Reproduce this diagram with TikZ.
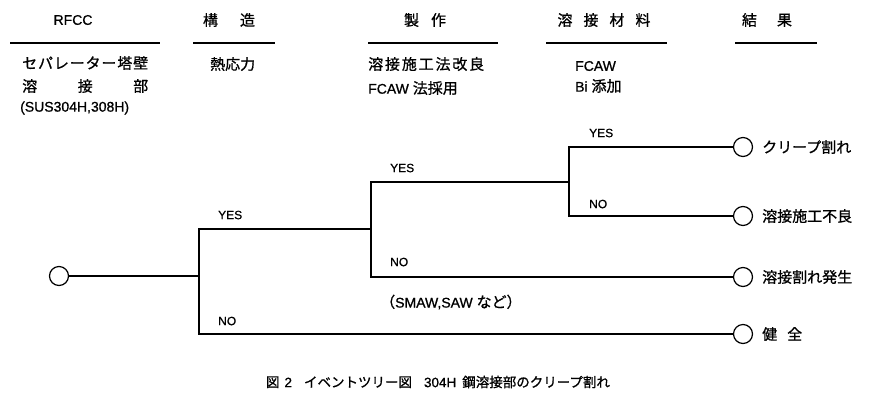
\documentclass[tikz,border=0pt]{standalone}
\usepackage{fontspec}
\setmainfont{Liberation Sans}[BoldFont=Liberation Sans, BoldFeatures={FakeBold=0.9}]
\newfontfamily\jp{Noto Sans CJK JP}[BoldFont=Noto Sans CJK JP, BoldFeatures={FakeBold=0.9}]
\newcommand\spreadto[2]{\makebox[#1][s]{#2}}
\begin{document}
\begin{tikzpicture}[x=1pt,y=-1pt,
  lbl/.style={inner sep=0pt, font=\fontsize{14}{16}\selectfont\bfseries},
  jlbl/.style={inner sep=0pt, font=\fontsize{15}{17}\selectfont\jp\bfseries},
  yn/.style={inner sep=0pt, anchor=west, font=\fontsize{12}{14}\selectfont\bfseries},
  res/.style={inner sep=0pt, anchor=west, font=\fontsize{15}{17}\selectfont\jp\bfseries},
  rulel/.style={line width=1.2pt},
  br/.style={line width=1.3pt},
  ev/.style={circle, draw, line width=1.2pt, minimum size=19pt, inner sep=0pt}]
\useasboundingbox (0,0) rectangle (881,400);
% headers
\node[lbl] (h1) at (73,20) {RFCC};
\node[jlbl] (h2) at (229,20) {構\hspace{22pt}造};
\node[jlbl] (h3) at (425,20) {製\hspace{12pt}作};
\node[jlbl] (h4) at (604,20) {溶\hspace{11pt}接\hspace{11pt}材\hspace{11pt}料};
\node[jlbl] (h5) at (767,20) {結\hspace{20pt}果};
\draw[rulel] (10,43) -- (160,43);
\draw[rulel] (193,43) -- (275,43);
\draw[rulel] (368,43) -- (498,43);
\draw[rulel] (546,43) -- (667,43);
\draw[rulel] (735,43) -- (817,43);
% column texts
\node[jlbl, anchor=west] (t1) at (22,63) {\spreadto{126pt}{セ\hfil パ\hfil レ\hfil ー\hfil タ\hfil ー\hfil 塔\hfil 壁}};
\node[jlbl, anchor=west] (t2) at (22,86) {\spreadto{126pt}{溶\hfil 接\hfil 部}};
\node[lbl, anchor=west] (t3) at (20,108) {(SUS304H,308H)};
\node[jlbl, anchor=west] (t4) at (210,64) {熱応力};
\node[jlbl, anchor=west] (t5) at (368,64) {\spreadto{116pt}{溶\hfil 接\hfil 施\hfil 工\hfil 法\hfil 改\hfil 良}};
\node[lbl, anchor=west] (t6) at (368,88) {FCAW {\jp\fontsize{15}{17}\selectfont\bfseries 法採用}};
\node[lbl, anchor=west] (t7) at (575,66) {FCAW};
\node[lbl, anchor=west] (t8) at (575,86) {Bi {\jp\fontsize{15}{17}\selectfont\bfseries 添加}};
% event tree
\node[ev] (s) at (59,276) {};
\node[ev] (e1) at (743,147) {};
\node[ev] (e2) at (743,216) {};
\node[ev] (e3) at (743,277) {};
\node[ev] (e4) at (743,334) {};
\coordinate (a) at (199,229);
\coordinate (b) at (371,229);
\coordinate (c) at (371,182);
\coordinate (d) at (569,182);
\coordinate (f) at (569,147);
\draw[br] (s.east) -- (s.east -| a);
\draw[br] (e4.west) -| (a) -- (b);
\draw[br] (e3.west) -| (c) -- (d);
\draw[br] (e2.west) -| (f) -- (e1.west);
% branch labels
\node[yn] (y1) at (218,215) {YES};
\node[yn] (n1) at (218,321) {NO};
\node[yn] (y2) at (390,168) {YES};
\node[yn] (n2) at (390,262) {NO};
\node[yn] (y3) at (589,133) {YES};
\node[yn] (n3) at (589,204) {NO};
\node[lbl, anchor=west] (sm) at (380,302) {{\jp\fontsize{15}{17}\selectfont\bfseries （}SMAW,SAW {\jp\fontsize{15}{17}\selectfont\bfseries など）}};
% results
\node[res] (r1) at (762,147) {クリープ割れ};
\node[res] (r2) at (762,216) {溶接施工不良};
\node[res] (r3) at (762,277) {溶接割れ発生};
\node[res] (r4) at (762,334) {健\hspace{10pt}全};
% caption
\node[lbl, font=\fontsize{13.5}{15}\selectfont\bfseries] (cap) at (438,382) {{\jp\bfseries 図}\hspace{5pt}2\hspace{12pt}{\jp\bfseries イベントツリー図}\hspace{12pt}304H\hspace{6pt}{\jp\bfseries 鋼溶接部のクリープ割れ}};
\end{tikzpicture}
\end{document}
